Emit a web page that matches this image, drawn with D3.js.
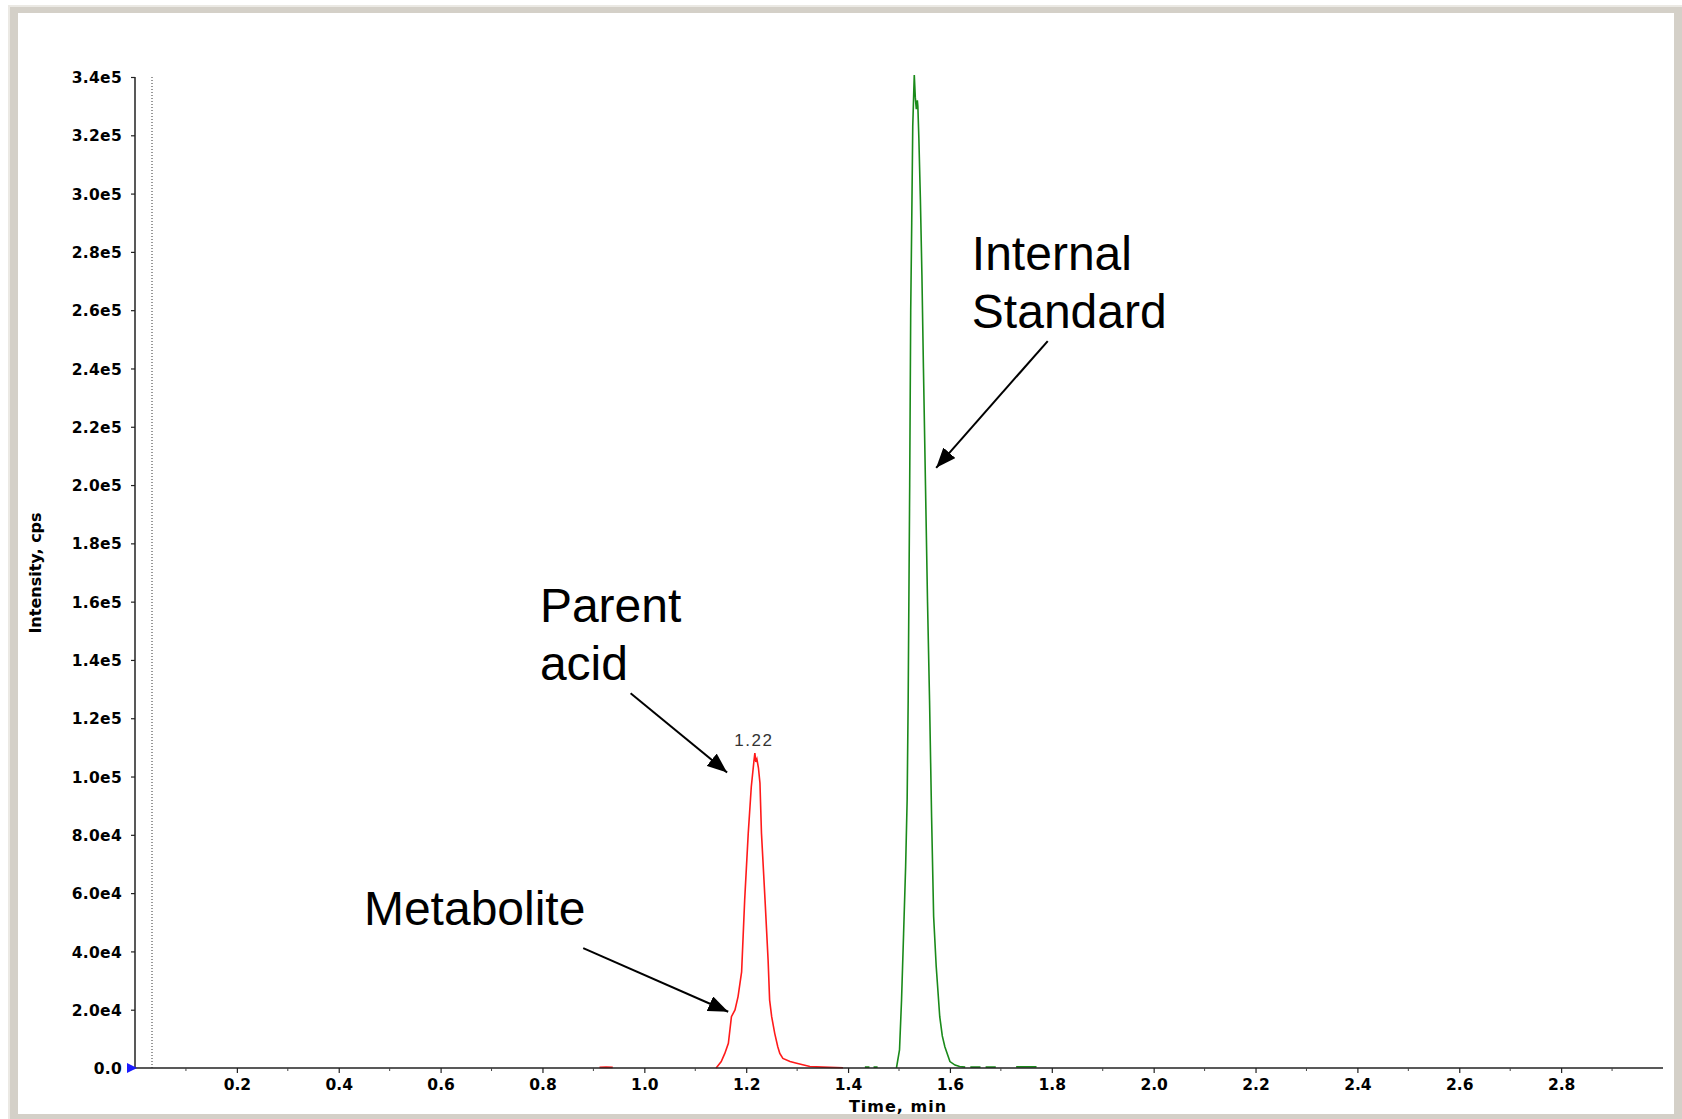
<html>
  <head>
    <script src="https://cdn.jsdelivr.net/npm/d3@7"></script>
    <style>
      body { margin: 0; background: #ffffff; }
      svg { display: block; }
    </style>
  </head>
  <body>
    <div id="container"></div>
    <script>
      // parent acid trace (red), null breaks the line
      const parentTime = [0.912, 0.925, 0.938, null,
        1.141, 1.151, 1.158, 1.165, 1.171, 1.178, 1.184, 1.191, 1.197, 1.204, 1.210, 1.215, 1.217,
        1.219, 1.221, 1.224, 1.227, 1.230, 1.237, 1.243, 1.246, 1.250, 1.256, 1.262, 1.266, 1.272,
        1.286, 1.299, 1.325, 1.350, 1.390];
      const parentCps = [200, 300, 200, null,
        0, 2200, 5000, 8500, 17600, 19900, 24500, 33000, 57600, 80500, 96500, 105000, 108000,
        105000, 106000, 103000, 97800, 80500, 57600, 37000, 23300, 17600, 11900, 7300, 5000, 3300,
        2200, 1600, 500, 300, 100];

      // internal standard trace (green)
      const isTime = [1.433, 1.442, null, 1.450, 1.458, null,
        1.495, 1.501, 1.505, 1.509, 1.513, 1.516, 1.518, 1.521, 1.523, 1.525, 1.527, 1.529, 1.530,
        1.532, 1.534, 1.536, 1.537, 1.539, 1.542, 1.545, 1.548, 1.552, 1.556, 1.560, 1.564, 1.568,
        1.573, 1.580, 1.585, 1.590, 1.600, 1.610, 1.619, 1.630, null,
        1.640, 1.660, null, 1.670, 1.690, null, 1.730, 1.770];
      const isCps = [300, 300, null, 300, 300, null,
        0, 6200, 23300, 46000, 69000, 92000, 126000, 200000, 260000, 290000, 323000, 335000, 340700,
        333000, 329000, 332000, 330000, 319000, 298000, 272000, 240000, 200000, 160000, 126000, 86000, 52000,
        35000, 17600, 11000, 7300, 2200, 1000, 500, 300, null,
        300, 300, null, 300, 300, null, 400, 400];

      const yTicks = [0, 2e4, 4e4, 6e4, 8e4, 1e5, 1.2e5, 1.4e5, 1.6e5, 1.8e5, 2e5, 2.2e5, 2.4e5,
        2.6e5, 2.8e5, 3e5, 3.2e5, 3.4e5];
      const yTickLabels = ["0.0", "2.0e4", "4.0e4", "6.0e4", "8.0e4", "1.0e5", "1.2e5", "1.4e5",
        "1.6e5", "1.8e5", "2.0e5", "2.2e5", "2.4e5", "2.6e5", "2.8e5", "3.0e5", "3.2e5", "3.4e5"];
      const xTicks = [0.2, 0.4, 0.6, 0.8, 1.0, 1.2, 1.4, 1.6, 1.8, 2.0, 2.2, 2.4, 2.6, 2.8];
      const xTickLabels = ["0.2", "0.4", "0.6", "0.8", "1.0", "1.2", "1.4", "1.6", "1.8", "2.0",
        "2.2", "2.4", "2.6", "2.8"];
      const xMinorTicks = [0.1, 0.3, 0.5, 0.7, 0.9, 1.1, 1.3, 1.5, 1.7, 1.9, 2.1, 2.3, 2.5, 2.7, 2.9];

      const peakLabel = { t: 1.217, v: 108000, text: "1.22" };
      const markerTime = 0.0334;

      // annotation text and arrows, in data units
      const annotations = [
        { lines: ["Internal", "Standard"], t: 1.643, v: 273700, from: [1.792, 249400], to: [1.573, 205900] },
        { lines: ["Parent", "acid"], t: 0.795, v: 153000, from: [0.973, 128600], to: [1.1625, 101400] },
        { lines: ["Metabolite"], t: 0.4495, v: 49100, from: [0.880, 41100], to: [1.1647, 19300] },
      ];

      const w = 1682;
      const h = 1119;

      const svg = d3
        .select("#container")
        .append("svg")
        .attr("width", w)
        .attr("height", h);

      // window frame
      svg.append("rect").attr("x", 8).attr("y", 5).attr("width", w - 8).attr("height", h - 5)
        .attr("fill", "#d4d0c8");
      svg.append("rect").attr("x", 8).attr("y", 5).attr("width", w - 8).attr("height", 2)
        .attr("fill", "#ebe9e4");
      svg.append("rect").attr("x", 8).attr("y", 5).attr("width", 2).attr("height", h - 5)
        .attr("fill", "#ebe9e4");
      svg.append("rect").attr("x", 18).attr("y", 13).attr("width", 1656).attr("height", 1101)
        .attr("fill", "#ffffff");

      const x = d3.scaleLinear().domain([0, 3.0]).range([135, 1663]);
      const y = d3.scaleLinear().domain([0, 3.4e5]).range([1068, 77]);

      const tickFont = "'DejaVu Sans', Verdana, sans-serif";

      // marker line
      svg.append("line")
        .attr("x1", x(markerTime)).attr("x2", x(markerTime))
        .attr("y1", y(3.4e5)).attr("y2", y(0))
        .attr("stroke", "#333").attr("stroke-width", 1)
        .attr("stroke-dasharray", "1,2");

      // traces
      const line = d3.line()
        .defined((d) => d[0] != null && d[1] != null)
        .x((d) => x(d[0]))
        .y((d) => y(d[1]));

      svg.append("path")
        .datum(parentTime.map((t, i) => [t, parentCps[i]]))
        .attr("d", line)
        .attr("fill", "none")
        .attr("stroke", "#ff1a1a")
        .attr("stroke-width", 1.6);

      svg.append("path")
        .datum(isTime.map((t, i) => [t, isCps[i]]))
        .attr("d", line)
        .attr("fill", "none")
        .attr("stroke", "#1a8a1a")
        .attr("stroke-width", 1.6);

      // y axis
      const yAxis = svg.append("g")
        .attr("transform", `translate(${x(0)},0)`)
        .call(d3.axisLeft(y).tickValues(yTicks).tickSize(4).tickPadding(9)
          .tickFormat((d, i) => yTickLabels[i]));
      yAxis.select(".domain").attr("d", `M0,${y(3.4e5)}V${y(0)}`)
        .attr("stroke", "#222").attr("stroke-width", 1.5);
      yAxis.selectAll(".tick line").attr("stroke", "#222").attr("stroke-width", 1.2);
      yAxis.selectAll(".tick text")
        .attr("font-family", tickFont).attr("font-weight", "bold").attr("font-size", 15.5)
        .attr("letter-spacing", 0.3)
        .attr("fill", "#000").attr("dy", "0.36em");

      // x axis
      const xAxis = svg.append("g")
        .attr("transform", `translate(0,${y(0)})`)
        .call(d3.axisBottom(x).tickValues(xTicks).tickSize(5).tickPadding(6)
          .tickFormat((d, i) => xTickLabels[i]));
      xAxis.select(".domain").attr("d", `M${x(0)},0H${x(3.0)}`)
        .attr("stroke", "#222").attr("stroke-width", 1.5);
      xAxis.selectAll(".tick line").attr("stroke", "#222").attr("stroke-width", 1.2);
      xAxis.selectAll(".tick text")
        .attr("font-family", tickFont).attr("font-weight", "bold").attr("font-size", 15.5)
        .attr("fill", "#000");

      svg.append("g")
        .selectAll("line")
        .data(xMinorTicks)
        .enter()
        .append("line")
        .attr("x1", (d) => x(d)).attr("x2", (d) => x(d))
        .attr("y1", y(0)).attr("y2", y(0) + 3)
        .attr("stroke", "#444").attr("stroke-width", 1);

      // origin marker
      svg.append("path")
        .attr("d", `M${x(0) - 8},${y(0) - 5}L${x(0) + 2},${y(0)}L${x(0) - 8},${y(0) + 5}Z`)
        .attr("fill", "#1a1aff");

      // axis titles
      svg.append("text")
        .attr("x", 898).attr("y", 1112)
        .attr("text-anchor", "middle")
        .attr("font-family", tickFont).attr("font-weight", "bold").attr("font-size", 16)
        .attr("letter-spacing", 1)
        .attr("fill", "#000")
        .text("Time, min");

      svg.append("text")
        .attr("transform", "translate(40.5,573) rotate(-90)")
        .attr("text-anchor", "middle")
        .attr("font-family", tickFont).attr("font-weight", "bold").attr("font-size", 16)
        .attr("fill", "#000")
        .text("Intensity, cps");

      // peak label
      svg.append("text")
        .attr("x", x(peakLabel.t) - 1).attr("y", y(peakLabel.v) - 7)
        .attr("text-anchor", "middle")
        .attr("font-family", "'Liberation Sans', Arial, sans-serif").attr("font-size", 17)
        .attr("letter-spacing", 1.5)
        .attr("fill", "#333")
        .text(peakLabel.text);

      // annotations
      svg.append("defs")
        .append("marker")
        .attr("id", "arrow")
        .attr("viewBox", "0 0 20 16")
        .attr("markerWidth", 20).attr("markerHeight", 16)
        .attr("markerUnits", "userSpaceOnUse")
        .attr("refX", 20).attr("refY", 8)
        .attr("orient", "auto")
        .append("path")
        .attr("d", "M0,0L20,8L0,16Z")
        .attr("fill", "#000");

      annotations.forEach((a) => {
        const txt = svg.append("text")
          .attr("font-family", "'Liberation Sans', Arial, sans-serif")
          .attr("font-size", 48)
          .attr("fill", "#000");
        a.lines.forEach((l, i) => {
          txt.append("tspan")
            .attr("x", x(a.t))
            .attr("y", y(a.v) + 58 * i)
            .text(l);
        });
        svg.append("line")
          .attr("x1", x(a.from[0])).attr("y1", y(a.from[1]))
          .attr("x2", x(a.to[0])).attr("y2", y(a.to[1]))
          .attr("stroke", "#000").attr("stroke-width", 2)
          .attr("marker-end", "url(#arrow)");
      });
    </script>
  </body>
</html>
